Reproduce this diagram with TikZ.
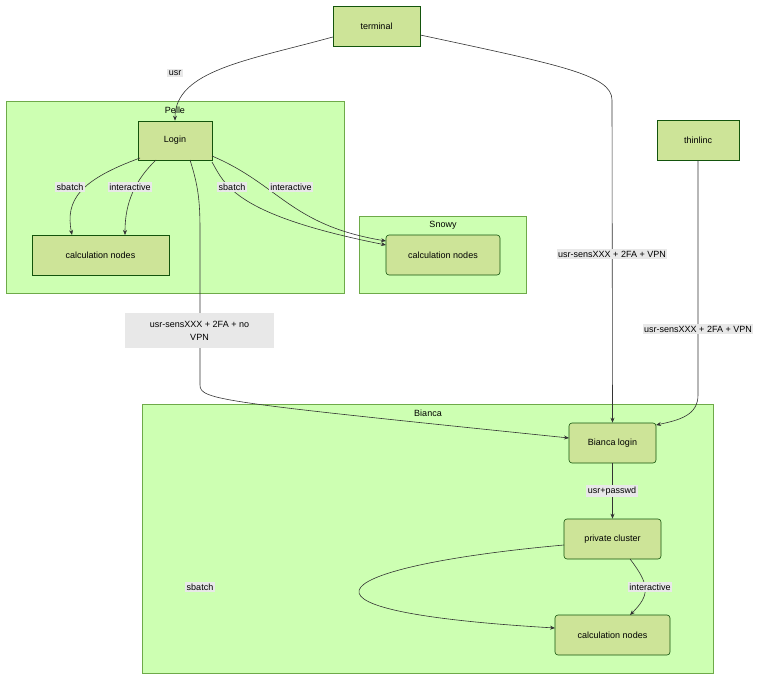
\documentclass[tikz,border=0pt]{standalone}
\usepackage{fontspec}
\setmainfont{Liberation Sans}
\usetikzlibrary{arrows.meta}
\definecolor{nodefill}{HTML}{CDE498}
\definecolor{nodeborder}{HTML}{13540C}
\definecolor{clfill}{HTML}{CDFFB2}
\definecolor{clborder}{HTML}{6EAA49}
\definecolor{edge}{HTML}{333333}
\definecolor{lblbg}{HTML}{E8E8E8}
\begin{document}
\begin{tikzpicture}[x=1pt,y=-1pt,
  font=\fontsize{9}{11}\selectfont,
  cluster/.style={draw=clborder,fill=clfill,line width=0.6pt},
  box/.style={draw=nodeborder,fill=nodefill,line width=0.6pt,inner sep=0pt},
  rbox/.style={box,rounded corners=3pt},
  lbl/.style={fill=lblbg,inner sep=1.5pt},
  ed/.style={draw=edge,line width=0.6pt,-{Stealth[length=5pt,width=4pt]}}]
\useasboundingbox (0,0) rectangle (784,687);
% clusters
\draw[cluster] (6,101) rectangle (344,293);
\node (pelle) at (175,110) {Pelle};
\draw[cluster] (359,216) rectangle (526,293);
\node (snowy) at (443,225) {Snowy};
\draw[cluster] (142,404) rectangle (713,673);
\node (bianca) at (428,413) {Bianca};
% nodes
\node[box,minimum width=87pt,minimum height=40pt] (term) at (376.5,26) {terminal};
\node[box,minimum width=74pt,minimum height=39pt] (login) at (175,140.5) {Login};
\node[box,minimum width=137pt,minimum height=40pt] (pcalc) at (100.5,255) {calculation nodes};
\node[rbox,minimum width=114pt,minimum height=40pt] (scalc) at (443,255) {calculation nodes};
\node[box,minimum width=82pt,minimum height=40pt] (thin) at (698,140) {thinlinc};
\node[rbox,minimum width=87pt,minimum height=40pt] (blogin) at (612.5,443) {Bianca login};
\node[rbox,minimum width=97pt,minimum height=40pt] (priv) at (612.5,539) {private cluster};
\node[rbox,minimum width=115pt,minimum height=40pt] (bcalc) at (612.5,635) {calculation nodes};
% edges
\draw[ed] (term.west|-0,37) .. controls (250,60) and (175,70) .. (login.north);
\draw[ed] (term.east|-0,35) .. controls (560,65) and (612,75) .. (612,100) -- (blogin.north);
\draw[ed] (140,158) .. controls (80,180) and (65,200) .. (72,235);
\draw[ed] (156,160) .. controls (130,185) and (125,210) .. (125,235);
\draw[ed] (212,162) .. controls (225,185) and (235,215) .. (386,245);
\draw[ed] (212,156) .. controls (280,185) and (290,225) .. (386,241);
\draw[ed] (190,160) .. controls (198,185) and (200,200) .. (200,230) -- (200,385) .. controls (200,400) and (220,402) .. (569,438);
\draw[ed] (thin.south) -- (698,395) .. controls (698,415) and (680,420) .. (656,425);
\draw[ed] (blogin.south) -- (priv.north);
\draw[ed] (630,559) .. controls (650,585) and (650,595) .. (630,615);
\draw[ed] (564,545) .. controls (340,565) and (250,610) .. (555,628);
% labels
\node[lbl] (l1) at (175,73) {usr};
\node[lbl] (l2) at (70,187) {sbatch};
\node[lbl] (l3) at (130,187) {interactive};
\node[lbl] (l4) at (232,187) {sbatch};
\node[lbl] (l5) at (291,187) {interactive};
\node[lbl] (l6) at (612,254) {usr-sensXXX + 2FA + VPN};
\node[lbl] (l7) at (698,329) {usr-sensXXX + 2FA + VPN};
\node[fill=lblbg,minimum width=149pt,minimum height=35pt,align=center,inner sep=0pt] (l8) at (199.5,330.5) {usr-sensXXX + 2FA + no\\[2pt]VPN};
\node[lbl] (l9) at (612,491) {usr+passwd};
\node[lbl] (l10) at (650,587) {interactive};
\node[lbl] (l11) at (200,587) {sbatch};
\end{tikzpicture}
\end{document}
